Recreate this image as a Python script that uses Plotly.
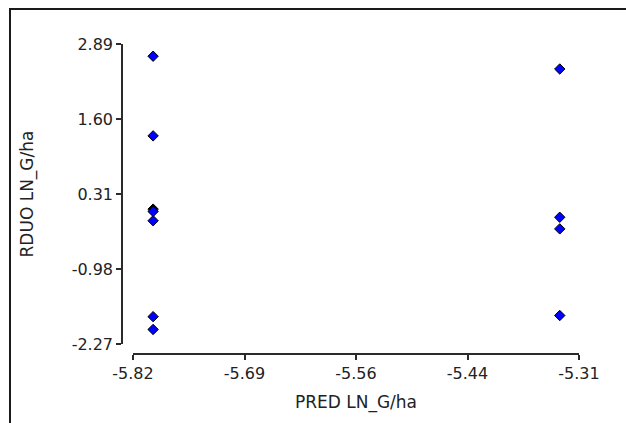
import numpy as np
import plotly.graph_objects as go

# ---- data ----
pred_blue = [-5.797, -5.797, -5.797, -5.797, -5.797, -5.797,
             -5.332, -5.332, -5.332, -5.332]
resid_blue = [2.68, 1.31, 0.01, -0.15, -1.80, -2.02,
              2.46, -0.09, -0.29, -1.78]
pred_black = [-5.797]
resid_black = [0.05]

x_range = [-5.82, -5.31]
y_range = [-2.27, 2.89]
x_ticktext = ["-5.82", "-5.69", "-5.56", "-5.44", "-5.31"]
y_ticktext = ["-2.27", "-0.98", "0.31", "1.60", "2.89"]

x_title = "PRED LN_G/ha"
y_title = "RDUO LN_G/ha"

FONT = "DejaVu Sans"
AX = "#2b2b2b"

fig = go.Figure()
fig.add_trace(go.Scatter(
    x=pred_black, y=resid_black, mode="markers",
    marker=dict(symbol="diamond", size=8, color="#000000",
                line=dict(color="#000000", width=1)),
    showlegend=False, hoverinfo="x+y"))
fig.add_trace(go.Scatter(
    x=pred_blue, y=resid_blue, mode="markers",
    marker=dict(symbol="diamond", size=8, color="#0000ff",
                line=dict(color="#000000", width=1)),
    showlegend=False, hoverinfo="x+y"))

W, H = 626, 423
L, R, T, B = 122, 47, 44, 69
pw, ph = W - L - R, H - T - B

fig.update_layout(
    width=W, height=H,
    margin=dict(l=L, r=R, t=T, b=B, autoexpand=False),
    paper_bgcolor="white", plot_bgcolor="white",
    font=dict(family=FONT, color="#222222"),
    xaxis=dict(
        domain=[11 / pw, 1], anchor="free", position=0,
        range=x_range, tickvals=list(np.linspace(x_range[0], x_range[1], len(x_ticktext))),
        ticktext=x_ticktext, showgrid=False, zeroline=False,
        showline=True, linecolor=AX, linewidth=1.5,
        ticks="outside", ticklen=5, tickwidth=1.5, tickcolor=AX,
        tickfont=dict(size=16, family=FONT, color="#222222"),
        title=dict(text=x_title, font=dict(size=17, family=FONT, color="#222222"), standoff=13),
        automargin=False,
    ),
    yaxis=dict(
        domain=[10 / ph, 1], anchor="free", position=0,
        range=y_range, tickvals=list(np.linspace(y_range[0], y_range[1], len(y_ticktext))),
        ticktext=y_ticktext, showgrid=False, zeroline=False,
        showline=True, linecolor=AX, linewidth=1.5,
        ticks="outside", ticklen=5, tickwidth=1.5, tickcolor=AX,
        tickfont=dict(size=16, family=FONT, color="#222222"),
        title=dict(text=y_title, font=dict(size=17, family=FONT, color="#222222"), standoff=33),
        automargin=False,
    ),
)

# outer frame (top and left edges visible)
x0 = (10 - L) / pw
y_top = (H - B - 9) / ph
y_bot = (H - B - H) / ph - 0.02
fig.add_shape(type="path", xref="paper", yref="paper",
              path=f"M {x0} {y_bot} L {x0} {y_top} L 1.2 {y_top}",
              line=dict(color="#1a1a1a", width=2))

fig.write_html("out.html")
